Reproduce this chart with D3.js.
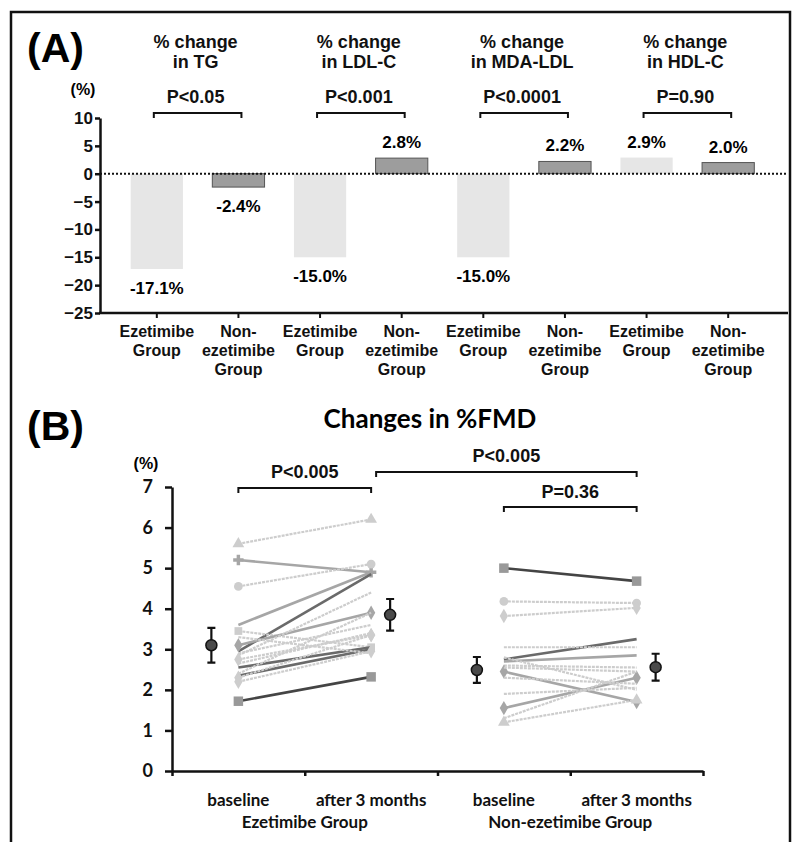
<!DOCTYPE html>
<html>
<head>
<meta charset="utf-8">
<script src="https://cdn.jsdelivr.net/npm/d3@7"></script>
<style>
  body { margin: 0; background: #fff; }
  svg { display: block; }
  .arial { font-family: "Liberation Sans", Arial, sans-serif; font-weight: bold; }
  .cal { font-family: Lato, "Open Sans", sans-serif; font-weight: bold; }
</style>
</head>
<body>
<svg id="chart" width="793" height="842"></svg>
<script>
// panel A data
var groups = ["TG", "LDL-C", "MDA-LDL", "HDL-C"];
var pValuesA = ["P<0.05", "P<0.001", "P<0.0001", "P=0.90"];
var ezChange = [-17.1, -15.0, -15.0, 2.9];
var nonEzChange = [-2.4, 2.8, 2.2, 2.0];
var yTicksA = [10, 5, 0, -5, -10, -15, -20, -25];

// panel B data (%FMD per patient)
var ezBaseline = [5.6, 5.2, 4.55, 3.6, 2.95, 3.45, 3.1, 2.85, 2.75, 2.55, 2.35, 2.3, 2.65, 1.72, 2.4, 3.3, 2.9, 2.2];
var ezAfter    = [6.2, 4.9, 5.1, 4.9, 4.85, 3.05, 3.9, 4.4, 3.35, 3.05, 3.0, 3.35, 3.4, 2.32, 3.9, 2.9, 3.6, 2.95];
var nonBaseline = [5.0, 4.18, 3.82, 2.75, 3.05, 2.7, 2.6, 2.45, 2.55, 1.55, 1.3, 1.9, 1.2, 2.3, 2.8];
var nonAfter    = [4.68, 4.14, 4.02, 3.25, 3.05, 2.85, 2.55, 1.7, 2.45, 2.3, 2.45, 2.05, 1.75, 2.15, 2.0];
var ezMean = [3.1, 3.85], ezErr = [0.43, 0.39];
var nonMean = [2.49, 2.56], nonErr = [0.32, 0.33];
var columnsB = ["baseline", "after 3 months", "baseline", "after 3 months"];
var groupNamesB = ["Ezetimibe Group", "Non-ezetimibe Group"];
var pValuesB = ["P<0.005", "P<0.005", "P=0.36"];

// line styles (not data)
var shade = { light: "#cdcdcd", mid: "#a6a6a6", dark: "#6a6a6a", sq: "#444" };
var ezStyle = ["light","mid","light","mid","dark","light","mid","light","light","dark","dark","light","light","sq","light","light","light","light"];
var ezSym = [d3.symbolTriangle,d3.symbolCross,d3.symbolCircle,null,null,d3.symbolSquare,d3.symbolDiamond,null,d3.symbolDiamond,null,null,d3.symbolDiamond,null,d3.symbolSquare,null,null,null,d3.symbolDiamond];
var nonStyle = ["sq","light","light","dark","light","mid","light","mid","light","mid","light","light","light","light","light"];
var nonSym = [d3.symbolSquare,d3.symbolCircle,d3.symbolDiamond,null,null,null,null,d3.symbolDiamond,null,d3.symbolDiamond,null,null,d3.symbolTriangle,null,null];

(function() {
	var svg = d3.select("#chart");

	// frame
	svg.append("rect").attr("x", 11).attr("y", 12).attr("width", 779).attr("height", 845)
		.attr("fill", "none").attr("stroke", "#111").attr("stroke-width", 2.5);

	// ---------------- panel A ----------------
	svg.append("text").attr("class", "arial").attr("x", 27).attr("y", 62)
		.attr("font-size", 41).text("(A)");

	var keys = [];
	groups.forEach(function(g) { keys.push(g + "|ez"); keys.push(g + "|non"); });
	var values = [];
	groups.forEach(function(g, i) { values.push(ezChange[i]); values.push(nonEzChange[i]); });

	var x = d3.scaleBand().domain(keys).range([116, 769]).paddingInner(0.36).paddingOuter(0.18);
	var y = d3.scaleLinear().domain([-25, 10]).range([313, 118]);
	var cx = function(k) { return x(k) + x.bandwidth() / 2; };

	var gA = svg.append("g");

	gA.selectAll(".bar").data(keys).enter().append("rect")
		.attr("x", function(k) { return x(k); })
		.attr("width", x.bandwidth())
		.attr("y", function(k, i) { return y(Math.max(0, values[i])); })
		.attr("height", function(k, i) { return Math.abs(y(values[i]) - y(0)); })
		.attr("fill", function(k) { return k.indexOf("|ez") > 0 ? "#e6e6e6" : "#9d9d9d"; })
		.attr("stroke", function(k) { return k.indexOf("|ez") > 0 ? "none" : "#555"; })
		.attr("stroke-width", 1);

	gA.selectAll(".val").data(keys).enter().append("text")
		.attr("class", "arial").attr("font-size", 17).attr("text-anchor", "middle")
		.attr("x", function(k) { return cx(k); })
		.attr("y", function(k, i) { return values[i] < 0 ? y(values[i]) + 25 : y(values[i]) - 10; })
		.text(function(k, i) { return values[i].toFixed(1) + "%"; });

	// zero line
	gA.append("line").attr("x1", 100).attr("x2", 787).attr("y1", y(0)).attr("y2", y(0))
		.attr("stroke", "#111").attr("stroke-width", 2).attr("stroke-dasharray", "2,2");

	// y axis
	var ay = gA.append("g").attr("transform", "translate(100,0)")
		.call(d3.axisLeft(y).tickValues(yTicksA).tickSize(5).tickPadding(2).tickSizeOuter(0));
	ay.selectAll("text").attr("class", "arial").attr("font-size", 17).attr("fill", "#111");
	ay.selectAll("line, path").attr("stroke", "#111").attr("stroke-width", 2.5);

	// x axis
	var ax = gA.append("g").attr("transform", "translate(0,313)")
		.call(d3.axisBottom(x).tickSize(5).tickSizeOuter(0).tickFormat(""));
	ax.select(".domain").remove();
	ax.selectAll("line").attr("stroke", "#111").attr("stroke-width", 2);
	gA.append("line").attr("x1", 99).attr("x2", 788).attr("y1", 313).attr("y2", 313)
		.attr("stroke", "#111").attr("stroke-width", 2.5);

	keys.forEach(function(k) {
		var lines = k.indexOf("|ez") > 0 ? ["Ezetimibe", "Group"] : ["Non-", "ezetimibe", "Group"];
		var t = gA.append("text").attr("class", "arial").attr("font-size", 16)
			.attr("text-anchor", "middle").attr("fill", "#111");
		lines.forEach(function(s, j) {
			t.append("tspan").attr("x", cx(k)).attr("y", 337 + j * 19).text(s);
		});
	});

	// titles, p values, brackets
	groups.forEach(function(g, i) {
		var a = cx(g + "|ez"), b = cx(g + "|non"), m = (a + b) / 2 - 2;
		var t = gA.append("text").attr("class", "arial").attr("font-size", 18)
			.attr("text-anchor", "middle").attr("fill", "#111");
		t.append("tspan").attr("x", m).attr("y", 48).text("% change");
		t.append("tspan").attr("x", m).attr("y", 68).text("in " + g);
		gA.append("text").attr("class", "arial").attr("font-size", 18).attr("text-anchor", "middle")
			.attr("x", m).attr("y", 103).attr("fill", "#111").text(pValuesA[i]);
		gA.append("path").attr("d", "M" + (a - 3) + ",118V113H" + (b + 3) + "V118")
			.attr("fill", "none").attr("stroke", "#111").attr("stroke-width", 2);
	});

	gA.append("text").attr("class", "arial").attr("font-size", 16).attr("text-anchor", "middle")
		.attr("x", 83).attr("y", 95).text("(%)");

	// ---------------- panel B ----------------
	svg.append("text").attr("class", "arial").attr("x", 27).attr("y", 440)
		.attr("font-size", 41).text("(B)");
	svg.append("text").attr("class", "cal").attr("x", 430).attr("y", 428)
		.attr("font-size", 26).attr("text-anchor", "middle").text("Changes in %FMD");

	var xe = d3.scaleLinear().domain([0, 4]).range([172, 703]);
	var yB = d3.scaleLinear().domain([0, 7]).range([771, 487]);
	var gB = svg.append("g");

	function drawPairs(base, after, styles, syms, c0, c1) {
		base.forEach(function(v, i) {
			var col = shade[styles[i]];
			gB.append("line")
				.attr("x1", xe(c0 + 0.5)).attr("x2", xe(c1 + 0.5))
				.attr("y1", yB(v)).attr("y2", yB(after[i]))
				.attr("stroke", col).attr("stroke-width", styles[i] === "light" ? 2.2 : 2.6)
				.attr("stroke-dasharray", styles[i] === "light" ? "3,1" : null);
			if (syms[i]) {
				var fill = styles[i] === "sq" ? "#999" : col;
				[[c0, v], [c1, after[i]]].forEach(function(p) {
					gB.append("path")
						.attr("d", d3.symbol().type(syms[i]).size(styles[i] === "sq" ? 90 : 60)())
						.attr("transform", "translate(" + xe(p[0] + 0.5) + "," + yB(p[1]) + ")")
						.attr("fill", fill);
				});
			}
		});
	}
	drawPairs(ezBaseline, ezAfter, ezStyle, ezSym, 0, 1);
	drawPairs(nonBaseline, nonAfter, nonStyle, nonSym, 2, 3);

	// means with error bars
	var means = [ezMean[0], ezMean[1], nonMean[0], nonMean[1]];
	var errs = [ezErr[0], ezErr[1], nonErr[0], nonErr[1]];
	means.forEach(function(m, i) {
		var px = xe(i + 0.5) + (i % 2 === 0 ? -27 : 19);
		var top = yB(m + errs[i]), bot = yB(m - errs[i]);
		gB.append("path")
			.attr("d", "M" + (px - 4) + "," + top + "H" + (px + 4) + "M" + px + "," + top + "V" + bot +
				"M" + (px - 4) + "," + bot + "H" + (px + 4))
			.attr("stroke", "#111").attr("stroke-width", 2.2).attr("fill", "none");
		gB.append("circle").attr("cx", px).attr("cy", yB(m)).attr("r", 5.5)
			.attr("fill", "#4a4a4a").attr("stroke", "#111").attr("stroke-width", 1.5);
	});

	// axes
	var ayB = gB.append("g").attr("transform", "translate(172,0)")
		.call(d3.axisLeft(yB).ticks(7).tickSize(7).tickPadding(12).tickSizeOuter(0));
	ayB.selectAll("text").attr("class", "cal").attr("font-size", 18).attr("fill", "#111");
	ayB.selectAll("line, path").attr("stroke", "#111").attr("stroke-width", 2.5);

	var axB = gB.append("g").attr("transform", "translate(0,771)")
		.call(d3.axisBottom(xe).ticks(4).tickSize(5).tickSizeOuter(0).tickFormat(""));
	axB.selectAll("line, path").attr("stroke", "#111").attr("stroke-width", 2.5);

	columnsB.forEach(function(c, i) {
		gB.append("text").attr("class", "cal").attr("font-size", 17).attr("text-anchor", "middle")
			.attr("x", xe(i + 0.5)).attr("y", 806).attr("fill", "#111").text(c);
	});
	groupNamesB.forEach(function(g, i) {
		gB.append("text").attr("class", "cal").attr("font-size", 17).attr("text-anchor", "middle")
			.attr("x", xe(i * 2 + 1)).attr("y", 828).attr("fill", "#111").text(g);
	});

	gB.append("text").attr("class", "arial").attr("font-size", 16).attr("text-anchor", "middle")
		.attr("x", 146).attr("y", 469).text("(%)");

	// significance brackets
	var brackets = [
		{ a: xe(0.5), b: xe(1.5), y: 488, ty: 478 },
		{ a: xe(1.5) + 5, b: xe(3.5), y: 472, ty: 462 },
		{ a: xe(2.5), b: xe(3.5), y: 507, ty: 498 }
	];
	brackets.forEach(function(br, i) {
		gB.append("path").attr("d", "M" + br.a + "," + (br.y + 5) + "V" + br.y + "H" + br.b + "V" + (br.y + 5))
			.attr("fill", "none").attr("stroke", "#111").attr("stroke-width", 2);
		gB.append("text").attr("class", "arial").attr("font-size", 18).attr("text-anchor", "middle")
			.attr("x", (br.a + br.b) / 2).attr("y", br.ty).attr("fill", "#111").text(pValuesB[i]);
	});
})();
</script>
</body>
</html>
